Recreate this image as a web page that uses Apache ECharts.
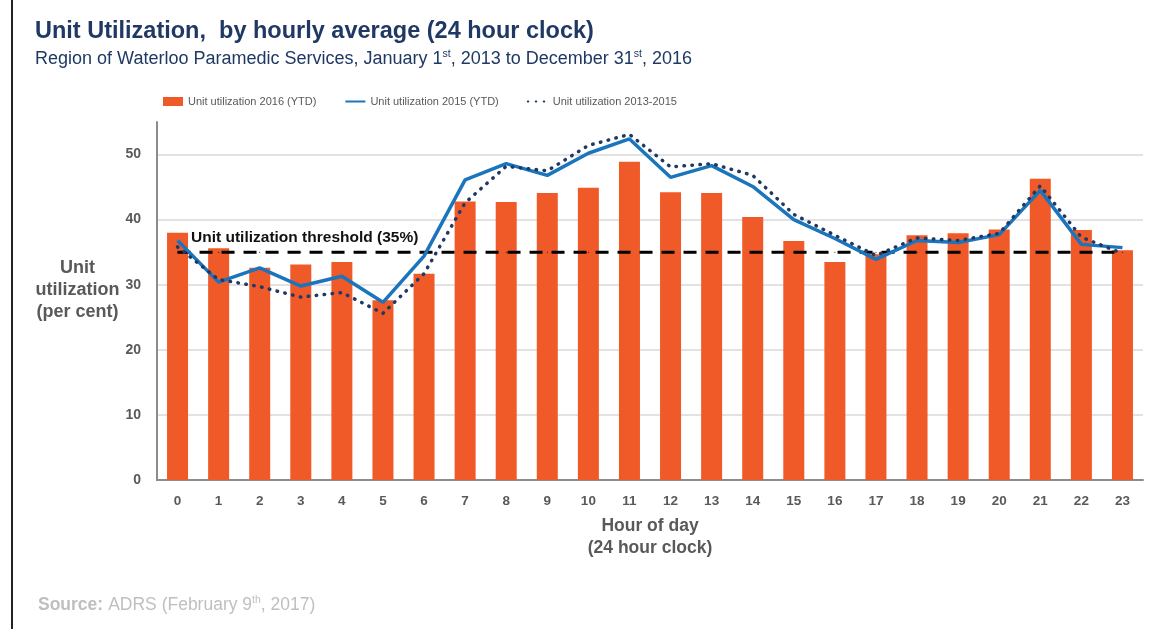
<!DOCTYPE html>
<html>
<head>
<meta charset="utf-8">
<script src="https://cdn.jsdelivr.net/npm/echarts@6/dist/echarts.min.js"></script>
<style>
  html, body { margin: 0; padding: 0; background: #fff; }
  #chart { width: 1149px; height: 629px; }
</style>
</head>
<body>
<div id="chart"></div>
<script>
const hours = ['0','1','2','3','4','5','6','7','8','9','10','11','12','13','14','15','16','17','18','19','20','21','22','23']
const util2016 = [38.0, 35.6, 32.6, 33.1, 33.5, 27.6, 31.7, 42.8, 42.7, 44.1, 44.9, 48.9, 44.2, 44.1, 40.4, 36.7, 33.5, 34.7, 37.6, 37.9, 38.5, 46.3, 38.4, 35.3]
const util2015 = [36.8, 30.4, 32.6, 29.8, 31.3, 27.3, 34.4, 46.1, 48.6, 46.8, 50.2, 52.4, 46.5, 48.3, 45.1, 40.0, 37.1, 33.9, 36.8, 36.5, 37.7, 44.5, 36.2, 35.7]
const util2013to2015 = [35.8, 30.8, 29.7, 28.1, 28.8, 25.6, 31.7, 42.6, 48.2, 47.5, 51.4, 53.1, 48.1, 48.6, 46.8, 40.8, 37.6, 34.5, 37.2, 36.8, 37.9, 45.2, 37.3, 34.8]
const threshold = Array(hours.length).fill(35)
const yTicks = [0, 10, 20, 30, 40, 50]

const grey = '#595959'
const navy = '#1f3864'

const chart = echarts.init(document.getElementById('chart'))

chart.setOption({
  animation: false,
  textStyle: { fontFamily: 'Liberation Sans, Arial, sans-serif' },
  title: [
    {
      text: 'Unit Utilization,  by hourly average (24 hour clock)',
      subtext: '{n|Region of Waterloo Paramedic Services, January 1}{s|st}{n|, 2013 to December 31}{s|st}{n|, 2016}',
      left: 30,
      top: 15,
      itemGap: 5,
      textStyle: { color: navy, fontSize: 23.5, fontWeight: 'bold' },
      subtextStyle: {
        rich: {
          n: { color: navy, fontSize: 18, verticalAlign: 'bottom', lineHeight: 19 },
          s: { color: navy, fontSize: 10.5, verticalAlign: 'top', lineHeight: 19, padding: [0, 0, 8, 0] },
        },
      },
    },
    {
      text: '{b|Source:} {n|ADRS (February 9}{s|th}{n|, 2017)}',
      left: 33,
      top: 589,
      textStyle: {
        rich: {
          b: { color: '#bfbfbf', fontSize: 17.5, fontWeight: 'bold', lineHeight: 22 },
          n: { color: '#bfbfbf', fontSize: 17.5, fontWeight: 'normal', lineHeight: 22 },
          s: { color: '#bfbfbf', fontSize: 10.5, fontWeight: 'normal', lineHeight: 22, padding: [0, 0, 10, 0] },
        },
      },
    },
  ],
  graphic: [
    { type: 'rect', shape: { x: 11, y: 0, width: 2, height: 629 }, style: { fill: '#222' } },
  ],
  legend: {
    top: 91,
    left: 158,
    itemGap: 28,
    itemWidth: 20,
    itemHeight: 9,
    textStyle: { color: grey, fontSize: 11 },
    data: [
      { name: 'Unit utilization 2016 (YTD)', icon: 'rect' },
      { name: 'Unit utilization 2015 (YTD)', itemStyle: { opacity: 0 } },
      { name: 'Unit utilization 2013-2015', itemStyle: { opacity: 0 } },
    ],
  },
  grid: { left: 157, right: 6, top: 122, bottom: 149 },
  xAxis: {
    type: 'category',
    data: hours,
    axisLine: { lineStyle: { color: '#8c8c8c', width: 2 } },
    axisTick: { show: false },
    axisLabel: { color: grey, fontSize: 13.5, fontWeight: 'bold', margin: 14 },
    name: 'Hour of day\n(24 hour clock)',
    nameLocation: 'middle',
    nameGap: 35,
    nameTextStyle: { color: grey, fontSize: 17.5, fontWeight: 'bold', lineHeight: 22, verticalAlign: 'top' },
  },
  yAxis: {
    type: 'value',
    min: 0,
    max: 55,
    interval: 10,
    axisLine: { show: true, lineStyle: { color: '#8c8c8c', width: 2 } },
    axisTick: { show: false },
    axisLabel: {
      color: grey, fontSize: 14, fontWeight: 'bold', margin: 16,
      formatter: (v) => (yTicks.includes(v) ? String(v) : ''),
    },
    splitLine: {
      lineStyle: { color: ['#d9d9d9', '#d9d9d9', '#d9d9d9', '#d9d9d9', '#d9d9d9', '#d9d9d9', 'rgba(0,0,0,0)'], width: 1.5 },
    },
    // trailing empty line lifts the block a little, as in the original
    name: 'Unit\nutilization\n(per cent)\n ',
    nameLocation: 'middle',
    nameRotate: 0,
    nameGap: 65,
    nameTextStyle: { color: grey, fontSize: 18, fontWeight: 'bold', lineHeight: 22, align: 'center' },
  },
  series: [
    {
      name: 'Unit utilization 2016 (YTD)',
      type: 'bar',
      data: util2016,
      barWidth: 21,
      itemStyle: { color: '#f05a28' },
    },
    {
      name: 'threshold',
      type: 'line',
      data: threshold.map((v, i) =>
        i === 0
          ? {
              value: v,
              label: {
                show: true,
                position: 'right',
                offset: [8, -14],
                formatter: 'Unit utilization threshold (35%)',
                color: '#111',
                fontSize: 15.5,
                fontWeight: 'bold',
              },
            }
          : v,
      ),
      symbol: 'circle',
      symbolSize: 1,
      showSymbol: true,
      itemStyle: { color: '#000' },
      lineStyle: { color: '#000', width: 3, type: [13, 9] },
      z: 3,
    },
    {
      name: 'Unit utilization 2015 (YTD)',
      type: 'line',
      data: util2015,
      symbol: 'none',
      lineStyle: { color: '#1b75bc', width: 3.5 },
      itemStyle: { color: '#1b75bc' },
      z: 4,
    },
    {
      name: 'Unit utilization 2013-2015',
      type: 'line',
      data: util2013to2015,
      symbol: 'none',
      lineStyle: { color: navy, width: 3.5, type: [0.5, 7.5], cap: 'round' },
      itemStyle: { color: navy },
      z: 5,
    },
  ],
})
</script>
</body>
</html>
